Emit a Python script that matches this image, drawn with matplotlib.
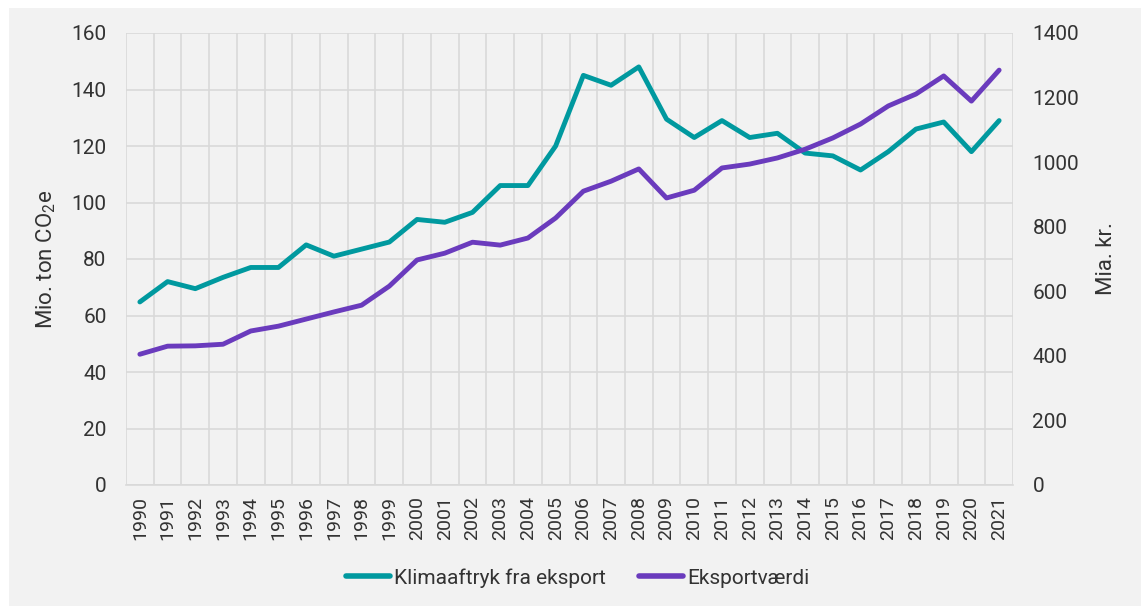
import matplotlib
matplotlib.use('Agg')
import matplotlib.pyplot as plt
from matplotlib.patches import Rectangle
from matplotlib.lines import Line2D

plt.rcParams['font.family'] = ['Roboto', 'DejaVu Sans']
plt.rcParams['mathtext.fontset'] = 'custom'
plt.rcParams['mathtext.rm'] = 'Roboto'
plt.rcParams['mathtext.default'] = 'rm'

# data
years = list(range(1990, 2022))
klima = [64.8, 72, 69.5, 73.5, 77, 77, 85, 81, 83.5, 86,
         94, 93, 96.5, 106, 106, 120, 145, 141.5, 148, 129.5,
         123, 129, 123, 124.5, 117.5, 116.5, 111.5, 118, 126, 128.5,
         118, 129]
eksport = [405, 430, 431, 436, 477, 492, 514, 536, 557, 616,
           697, 718, 752, 743, 765, 827, 910, 941, 979, 889,
           913, 982, 994, 1013, 1040, 1075, 1118, 1174, 1211, 1267,
           1189, 1285]

teal = '#00999f'
purple = '#6a3bbd'
bg = '#f2f2f2'
grid_c = '#d9d9d9'
txt = '#333333'

fig = plt.figure(figsize=(11.41, 6.06), dpi=100, facecolor='white')
fig.patches.append(Rectangle((9 / 1141, 0), 1, 1 - 8 / 606,
                             transform=fig.transFigure, facecolor=bg,
                             edgecolor='none', zorder=-10))

ax = fig.add_axes([126 / 1141, 1 - 485 / 606, (1013 - 126) / 1141, (485 - 33) / 606])
ax.set_facecolor(bg)
ax2 = ax.twinx()

x = list(range(len(years)))
ax.plot(x, klima, color=teal, lw=3.5, solid_capstyle='round', solid_joinstyle='round', zorder=3)
ax2.plot(x, eksport, color=purple, lw=3.5, solid_capstyle='round', solid_joinstyle='round', zorder=3)

ax.set_xlim(-0.5, len(years) - 0.5)
ax.set_ylim(0, 160)
ax2.set_ylim(0, 1400)
ax.set_yticks(range(0, 161, 20))
ax2.set_yticks(range(0, 1401, 200))

ax.set_xticks(x)
ax.set_xticklabels([str(y) for y in years], rotation=90, fontsize=14, color=txt)
ax.set_xticks([i - 0.5 for i in range(len(years) + 1)], minor=True)
ax.tick_params(axis='x', which='both', length=0, pad=8)
ax.tick_params(axis='y', length=0, labelsize=15, colors=txt, pad=14)
ax2.tick_params(axis='y', length=0, labelsize=15, colors=txt, pad=14)

ax.grid(True, which='major', axis='y', color=grid_c, lw=1.2)
ax.grid(True, which='minor', axis='x', color=grid_c, lw=1.2)
ax.set_axisbelow(True)
for a in (ax, ax2):
    for s in a.spines.values():
        s.set_visible(False)
ax.spines['bottom'].set_visible(True)
ax.spines['bottom'].set_color(grid_c)
ax.spines['bottom'].set_linewidth(1.2)

ax.set_ylabel('Mio. ton CO$_2$e', fontsize=16, color=txt, labelpad=10)
ax2.set_ylabel('Mia. kr.', fontsize=16, color=txt, labelpad=12)

handles = [Line2D([], [], color=teal, lw=4, solid_capstyle='round'),
           Line2D([], [], color=purple, lw=4, solid_capstyle='round')]
fig.legend(handles, ['Klimaaftryk fra eksport', 'Eksportværdi'],
           loc='center', bbox_to_anchor=(578 / 1141, 1 - 578 / 606), ncol=2,
           frameon=False, fontsize=15, handlelength=2.1, handletextpad=0.2,
           columnspacing=1.6, labelcolor=txt)

fig.savefig('out.png', dpi=100, facecolor='white')
